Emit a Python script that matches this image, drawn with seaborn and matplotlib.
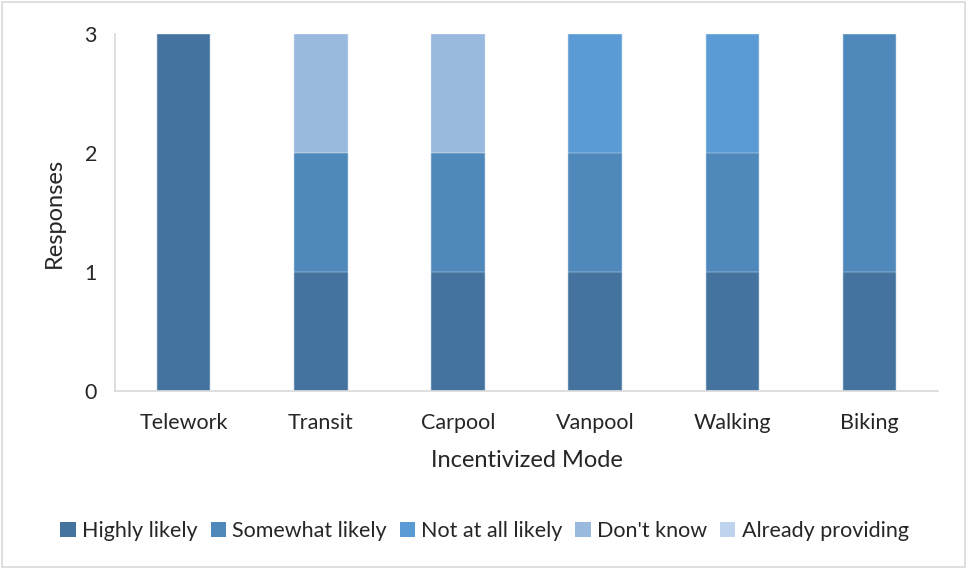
import pandas as pd
import numpy as np
import matplotlib.pyplot as plt
import seaborn as sns
from matplotlib.patches import Patch, Rectangle

# Chart data
modes = ['Telework', 'Transit', 'Carpool', 'Vanpool', 'Walking', 'Biking']
responses = ['Highly likely', 'Somewhat likely', 'Not at all likely', "Don't know", 'Already providing']
highly_likely = [3, 1, 1, 1, 1, 1]
somewhat_likely = [0, 1, 1, 1, 1, 2]
not_at_all_likely = [0, 0, 0, 1, 1, 0]
dont_know = [0, 1, 1, 0, 0, 0]
already_providing = [0, 0, 0, 0, 0, 0]
colors = ['#44739f', '#4f89bb', '#5b9bd5', '#9ab9df', '#bdd3ee']

df = pd.DataFrame({
    'Mode': modes,
    'Highly likely': highly_likely,
    'Somewhat likely': somewhat_likely,
    'Not at all likely': not_at_all_likely,
    "Don't know": dont_know,
    'Already providing': already_providing,
})

# cumulative totals so the tallest layer is drawn first
cum = df[responses].cumsum(axis=1)
cum['Mode'] = df['Mode']

sns.set_style('white')
plt.rcParams['font.family'] = ['Lato', 'DejaVu Sans']

fig = plt.figure(figsize=(9.69, 5.69), dpi=100)
ax = fig.add_axes([0.1187, 0.3128, 0.8493, 0.6274])

for resp, col in reversed(list(zip(responses, colors))):
    sns.barplot(data=cum, x='Mode', y=resp, color=col, width=0.39,
                saturation=1, edgecolor='#e6eef7', linewidth=0.3, ax=ax)

ax.set_ylim(0, 3)
ax.set_xlim(-0.5, len(modes) - 0.5)
ax.set_yticks([0, 1, 2, 3])
ax.tick_params(axis='y', length=5, color='#d9d9d9', labelsize=15.5, pad=8)
ax.tick_params(axis='x', length=0, labelsize=15.5, pad=16)
ax.set_xticks(np.arange(-0.5, len(modes)), minor=True)
ax.tick_params(axis='x', which='minor', length=6, color='#d9d9d9')

for s in ['top', 'right']:
    ax.spines[s].set_visible(False)
for s in ['left', 'bottom']:
    ax.spines[s].set_color('#d9d9d9')
    ax.spines[s].set_linewidth(1.2)

ax.set_xlabel('Incentivized Mode', fontsize=17, labelpad=12)
ax.set_ylabel('Responses', fontsize=17, labelpad=14)

handles = [Patch(facecolor=c, edgecolor='none') for c in colors]
fig.legend(handles, responses, loc='center', bbox_to_anchor=(0.5, 0.067),
           ncol=5, frameon=False, fontsize=15.5, handlelength=0.7,
           handleheight=0.7, handletextpad=0.3, columnspacing=0.6)

# light frame around the whole chart
fig.patches.append(Rectangle((0.002, 0.003), 0.994, 0.993, transform=fig.transFigure,
                             fill=False, edgecolor='#d9d9d9', linewidth=1.2))

fig.savefig('out.png', dpi=100)
